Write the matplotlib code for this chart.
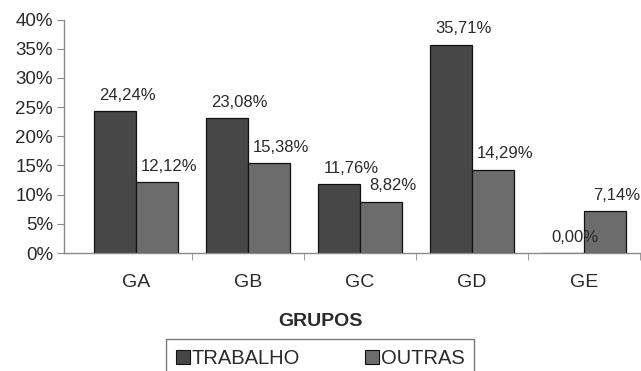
import numpy as np
import matplotlib.pyplot as plt
from matplotlib.patches import Patch
from matplotlib.ticker import FixedLocator, FuncFormatter

plt.rcParams['font.family'] = ['Liberation Sans', 'DejaVu Sans']

grupos = ['GA', 'GB', 'GC', 'GD', 'GE']
trabalho = [24.24, 23.08, 11.76, 35.71, 0.00]
outras = [12.12, 15.38, 8.82, 14.29, 7.14]
series_names = ['TRABALHO', 'OUTRAS']

c_trab = '#474747'
c_outr = '#6c6c6c'
axis_c = '#8a8a8a'
txt_c = '#2a2a2a'

fig = plt.figure(figsize=(6.41, 3.71), dpi=100)
ax = fig.add_axes([64 / 641, 1 - 253 / 371, 576 / 641, 233.5 / 371])

x = np.arange(len(grupos))
w = 0.375
b1 = ax.bar(x - w / 2, trabalho, w, color=c_trab, edgecolor='#111111', linewidth=0.9)
b2 = ax.bar(x + w / 2, outras, w, color=c_outr, edgecolor='#111111', linewidth=0.9)

# value labels above each bar, shifted a bit to the right
for bars, vals in ((b1, trabalho), (b2, outras)):
    for r, v in zip(bars, vals):
        ax.annotate(f'{v:.2f}%'.replace('.', ','),
                    (r.get_x() + r.get_width() / 2, v),
                    xytext=(12, 16), textcoords='offset pixels',
                    ha='center', va='center', fontsize=12, color=txt_c)

ax.set_ylim(0, 40)
ax.set_xlim(-0.5 - 16 / 112, 4.5)
ax.set_yticks(np.arange(0, 41, 5))
ax.yaxis.set_major_formatter(FuncFormatter(lambda v, p: f'{v:.0f}%'))
ax.tick_params(axis='y', labelsize=13.5, length=5, color=axis_c, labelcolor=txt_c, pad=3)

ax.set_xticks(x)
ax.set_xticklabels(grupos)
ax.xaxis.set_minor_locator(FixedLocator(np.arange(0.5, 4.6, 1)))
ax.tick_params(axis='x', which='major', length=0, labelsize=14, labelcolor=txt_c, pad=15)
ax.tick_params(axis='x', which='minor', length=5, color=axis_c)

for s in ('top', 'right'):
    ax.spines[s].set_visible(False)
for s in ('left', 'bottom'):
    ax.spines[s].set_color(axis_c)
    ax.spines[s].set_linewidth(1.0)

fig.text(320 / 641, 1 - 321 / 371, 'GRUPOS', ha='center', va='center',
         fontsize=14, fontweight='bold', color=txt_c)

handles = [Patch(facecolor=c_trab, edgecolor='#111111', linewidth=0.8),
           Patch(facecolor=c_outr, edgecolor='#111111', linewidth=0.8)]
leg = fig.legend(handles, series_names, loc='upper center', ncol=2,
                 bbox_to_anchor=(320 / 641, 1 - 339 / 371), fontsize=14.5,
                 frameon=True, fancybox=False, edgecolor='#555555',
                 handlelength=0.7, handleheight=0.7, handletextpad=0.1,
                 columnspacing=3.2, borderpad=0.5, borderaxespad=0)
leg.get_frame().set_linewidth(1.0)
for t in leg.get_texts():
    t.set_color(txt_c)

fig.savefig('out.png', dpi=100)
